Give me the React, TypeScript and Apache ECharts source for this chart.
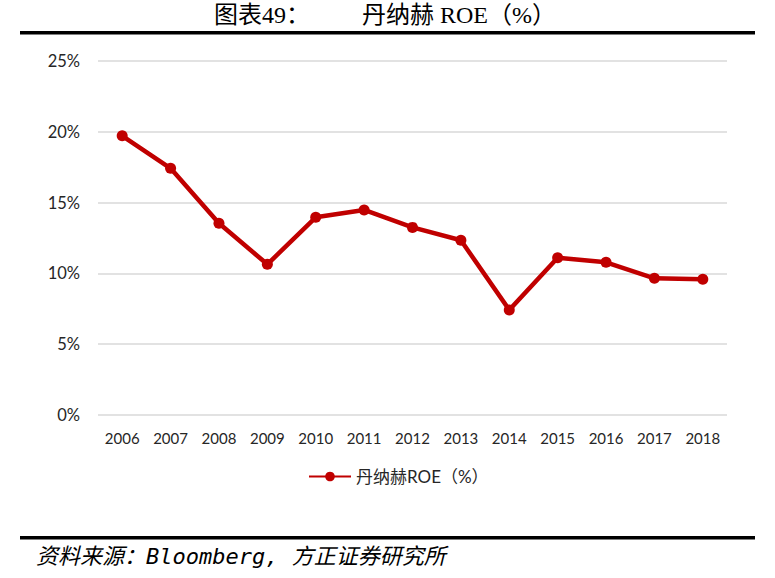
import React, { useEffect, useRef } from "react";
import * as echarts from "echarts";

const years = ["2006", "2007", "2008", "2009", "2010", "2011", "2012", "2013", "2014", "2015", "2016", "2017", "2018"];
const roe = [19.72, 17.42, 13.54, 10.64, 13.96, 14.48, 13.25, 12.34, 7.42, 11.11, 10.78, 9.65, 9.58];
const seriesName = "丹纳赫ROE（%）";
const titleLeft = "图表49：";
const titleRight = "丹纳赫 ROE（%）";
const footer = "资料来源：Bloomberg, 方正证券研究所";

export default function App() {
  const ref = useRef<HTMLDivElement>(null);
  useEffect(() => {
    if (!ref.current) return;
    const chart = echarts.init(ref.current, null, { renderer: "svg" });
    const sans = "Lato, 'Noto Sans CJK SC', sans-serif";
    const serif = "'Liberation Serif', 'Noto Sans CJK SC', serif";
    chart.setOption({
      animation: false,
      backgroundColor: "#ffffff",
      grid: { left: 98, right: 48, top: 61, bottom: 163 },
      xAxis: {
        type: "category",
        data: years,
        boundaryGap: true,
        axisLine: { show: false },
        axisTick: { show: false },
        axisLabel: { color: "#262626", fontSize: 15, fontFamily: sans, margin: 15 },
      },
      yAxis: {
        type: "value",
        min: 0,
        max: 25,
        interval: 5,
        axisLine: { show: false },
        axisTick: { show: false },
        splitLine: { lineStyle: { color: "#d9d9d9", width: 1.5 } },
        axisLabel: { color: "#262626", fontSize: 16.5, fontFamily: sans, margin: 18, formatter: "{value}%" },
      },
      legend: {
        data: [seriesName],
        bottom: 88,
        left: 303,
        itemWidth: 42,
        itemHeight: 12,
        itemGap: 4,
        textStyle: { color: "#262626", fontSize: 17, fontFamily: sans },
      },
      series: [
        {
          name: seriesName,
          type: "line",
          data: roe,
          symbol: "circle",
          symbolSize: 11,
          itemStyle: { color: "#c00000" },
          lineStyle: { color: "#c00000", width: 4.5 },
        },
      ],
      graphic: [
        {
          type: "text",
          left: 214,
          top: 3,
          style: { text: titleLeft, font: `24px ${serif}`, fill: "#000" },
        },
        {
          type: "text",
          left: 362,
          top: 3,
          style: { text: titleRight, font: `24px ${serif}`, fill: "#000" },
        },
        { type: "rect", shape: { x: 20, y: 31, width: 735, height: 3.5 }, style: { fill: "#000" } },
        { type: "rect", shape: { x: 20, y: 536, width: 735, height: 3.5 }, style: { fill: "#000" } },
        {
          type: "text",
          left: 36,
          top: 545,
          style: { text: footer, font: `italic 22px 'DejaVu Sans Mono', 'Noto Sans CJK SC', monospace`, fill: "#000" },
        },
      ],
    });
    return () => chart.dispose();
  }, []);
  return (
    <div
      ref={ref}
      style={{ position: "fixed", left: 0, top: 0, width: 775, height: 578, background: "#fff" }}
    />
  );
}
